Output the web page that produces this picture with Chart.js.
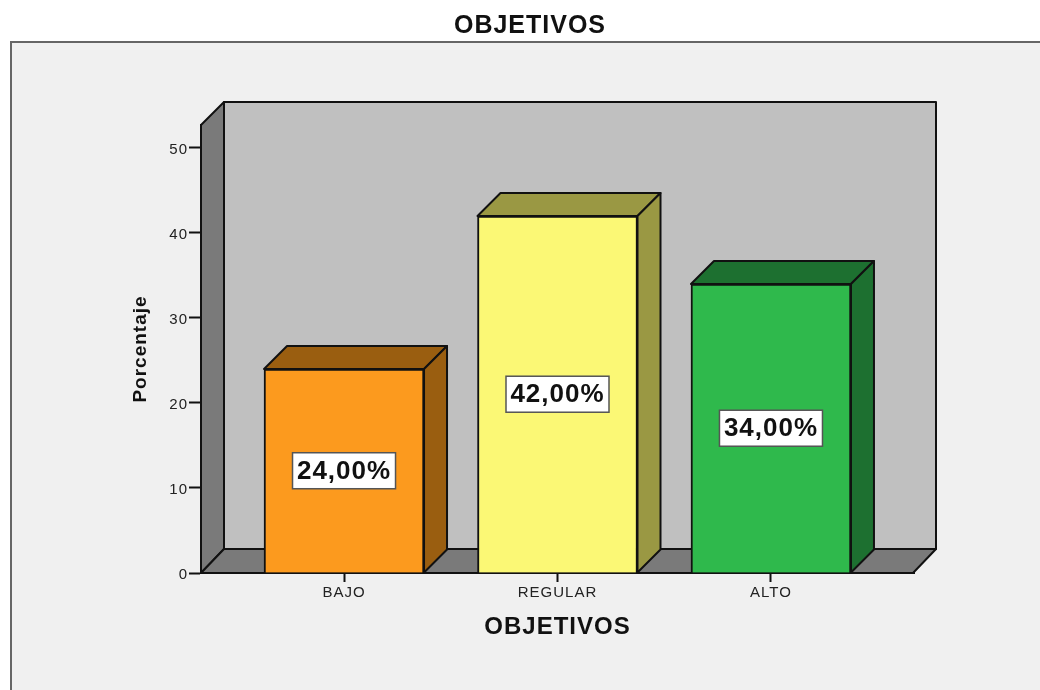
<!DOCTYPE html>
<html>
<head>
<meta charset="utf-8">
<style>html,body{margin:0;padding:0;background:#fff}canvas{display:block}</style>
<script src="https://cdn.jsdelivr.net/npm/chart.js@4/dist/chart.umd.min.js"></script>
</head>
<body>
<div style="width:1040px;height:690px"><canvas id="c" width="1040" height="690"></canvas></div>
<script>
const categories = ["BAJO", "REGULAR", "ALTO"];
const values = [24, 42, 34];
const valueLabels = ["24,00%", "42,00%", "34,00%"];
const yTickValues = [0, 10, 20, 30, 40, 50];
const frontColors = ["#fc9a1e", "#fbf875", "#2fb94c"];
const sideColors = ["#9a5e10", "#9a9843", "#1d7030"];

const FONT = "'Liberation Sans', Arial, sans-serif";
const DEPTH = 23, INK = "#111";

function poly(ctx, pts, fill) {
  ctx.beginPath();
  pts.forEach((p, i) => i ? ctx.lineTo(p[0], p[1]) : ctx.moveTo(p[0], p[1]));
  ctx.closePath();
  ctx.fillStyle = fill; ctx.fill();
  ctx.strokeStyle = INK; ctx.lineWidth = 2; ctx.lineJoin = "round"; ctx.stroke();
}

const scene = {
  id: "scene",
  afterLayout(chart) {
    chart.titleBlock.left = 0;
    chart.titleBlock.right = 1060;
  },
  beforeDraw(chart) {
    const ctx = chart.ctx;
    ctx.letterSpacing = "1px";
    ctx.save();
    ctx.fillStyle = "#fff"; ctx.fillRect(0, 0, chart.width, chart.height);
    ctx.fillStyle = "#f0f0f0"; ctx.fillRect(11, 42, chart.width, chart.height);
    ctx.strokeStyle = "#666"; ctx.lineWidth = 2;
    ctx.beginPath(); ctx.moveTo(11, chart.height + 2); ctx.lineTo(11, 42); ctx.lineTo(chart.width + 2, 42); ctx.stroke();
    ctx.restore();
  },
  beforeDatasetsDraw(chart) {
    const ctx = chart.ctx, a = chart.chartArea;
    ctx.save();
    poly(ctx, [[a.left + DEPTH, a.top - DEPTH], [a.right + DEPTH - 1, a.top - DEPTH], [a.right + DEPTH - 1, a.bottom - DEPTH - 1], [a.left + DEPTH, a.bottom - DEPTH - 1]], "#c0c0c0");
    poly(ctx, [[a.left, a.top], [a.left + DEPTH, a.top - DEPTH], [a.left + DEPTH, a.bottom - DEPTH - 1], [a.left, a.bottom]], "#7a7a7a");
    poly(ctx, [[a.left, a.bottom], [a.left + DEPTH, a.bottom - DEPTH - 1], [a.right + DEPTH - 1, a.bottom - DEPTH - 1], [a.right - 1, a.bottom]], "#7a7a7a");
    chart.getDatasetMeta(0).data.forEach((b, i) => {
      const l = b.x - b.width / 2, r = b.x + b.width / 2;
      poly(ctx, [[l, b.y], [l + DEPTH, b.y - DEPTH], [r + DEPTH, b.y - DEPTH], [r, b.y]], sideColors[i]);
      poly(ctx, [[r, b.y], [r + DEPTH, b.y - DEPTH], [r + DEPTH, b.base - DEPTH], [r, b.base]], sideColors[i]);
    });
    ctx.restore();
  },
  afterDatasetsDraw(chart) {
    const ctx = chart.ctx;
    ctx.save();
    ctx.font = "bold 26px " + FONT;
    ctx.textAlign = "center"; ctx.textBaseline = "middle";
    chart.getDatasetMeta(0).data.forEach((b, i) => {
      const cy = (b.y + b.base) / 2;
      const w = 103, h = 36;
      ctx.fillStyle = "#fff"; ctx.fillRect(b.x - w / 2, cy - h / 2, w, h);
      ctx.strokeStyle = "#555"; ctx.lineWidth = 1.5; ctx.strokeRect(b.x - w / 2, cy - h / 2, w, h);
      ctx.fillStyle = "#111"; ctx.fillText(valueLabels[i], b.x, cy + 1);
    });
    ctx.restore();
  }
};

new Chart(document.getElementById("c"), {
  type: "bar",
  data: {
    datasets: [{
      data: values.map((v, i) => ({ x: i, y: v })),
      backgroundColor: frontColors,
      borderColor: INK,
      borderWidth: 2,
      barThickness: 160
    }]
  },
  options: {
    responsive: false,
    animation: false,
    layout: { padding: { top: 11, right: 126, bottom: 0, left: 0 } },
    plugins: {
      legend: { display: false },
      tooltip: { enabled: false },
      title: {
        display: true, text: "OBJETIVOS", color: "#111",
        font: { family: FONT, size: 25, weight: "bold", lineHeight: 1.2 },
        padding: { top: 0, bottom: 84 }
      }
    },
    scales: {
      x: {
        type: "linear", min: -0.67, max: 2.67, offset: false,
        afterFit(s) { s.height = 117; },
        afterBuildTicks(s) { s.ticks = categories.map((_, i) => ({ value: i })); },
        grid: { offset: false, drawOnChartArea: false, tickLength: 9, tickColor: INK, tickWidth: 2 },
        border: { color: INK, width: 2 },
        ticks: {
          color: "#222", padding: 2, maxRotation: 0, autoSkip: false,
          font: { family: FONT, size: 15 },
          callback: v => categories[v]
        },
        title: {
          display: true, text: "OBJETIVOS", color: "#111",
          font: { family: FONT, size: 24, weight: "bold", lineHeight: 1.2 },
          padding: { top: 0, bottom: 48 }
        }
      },
      y: {
        min: 0, max: 52.7,
        afterFit(s) { s.width = 201; },
        afterBuildTicks(s) { s.ticks = yTickValues.map(v => ({ value: v })); },
        grid: { drawOnChartArea: false, tickLength: 12, tickColor: INK, tickWidth: 2 },
        border: { color: INK, width: 2 },
        ticks: { color: "#222", padding: 1, labelOffset: 2, font: { family: FONT, size: 15 } },
        title: {
          display: true, text: "Porcentaje", color: "#111",
          font: { family: FONT, size: 19, weight: "bold", lineHeight: 1.2 },
          padding: { top: 129, bottom: 0 }
        }
      }
    }
  },
  plugins: [scene]
});
</script>
</body>
</html>
